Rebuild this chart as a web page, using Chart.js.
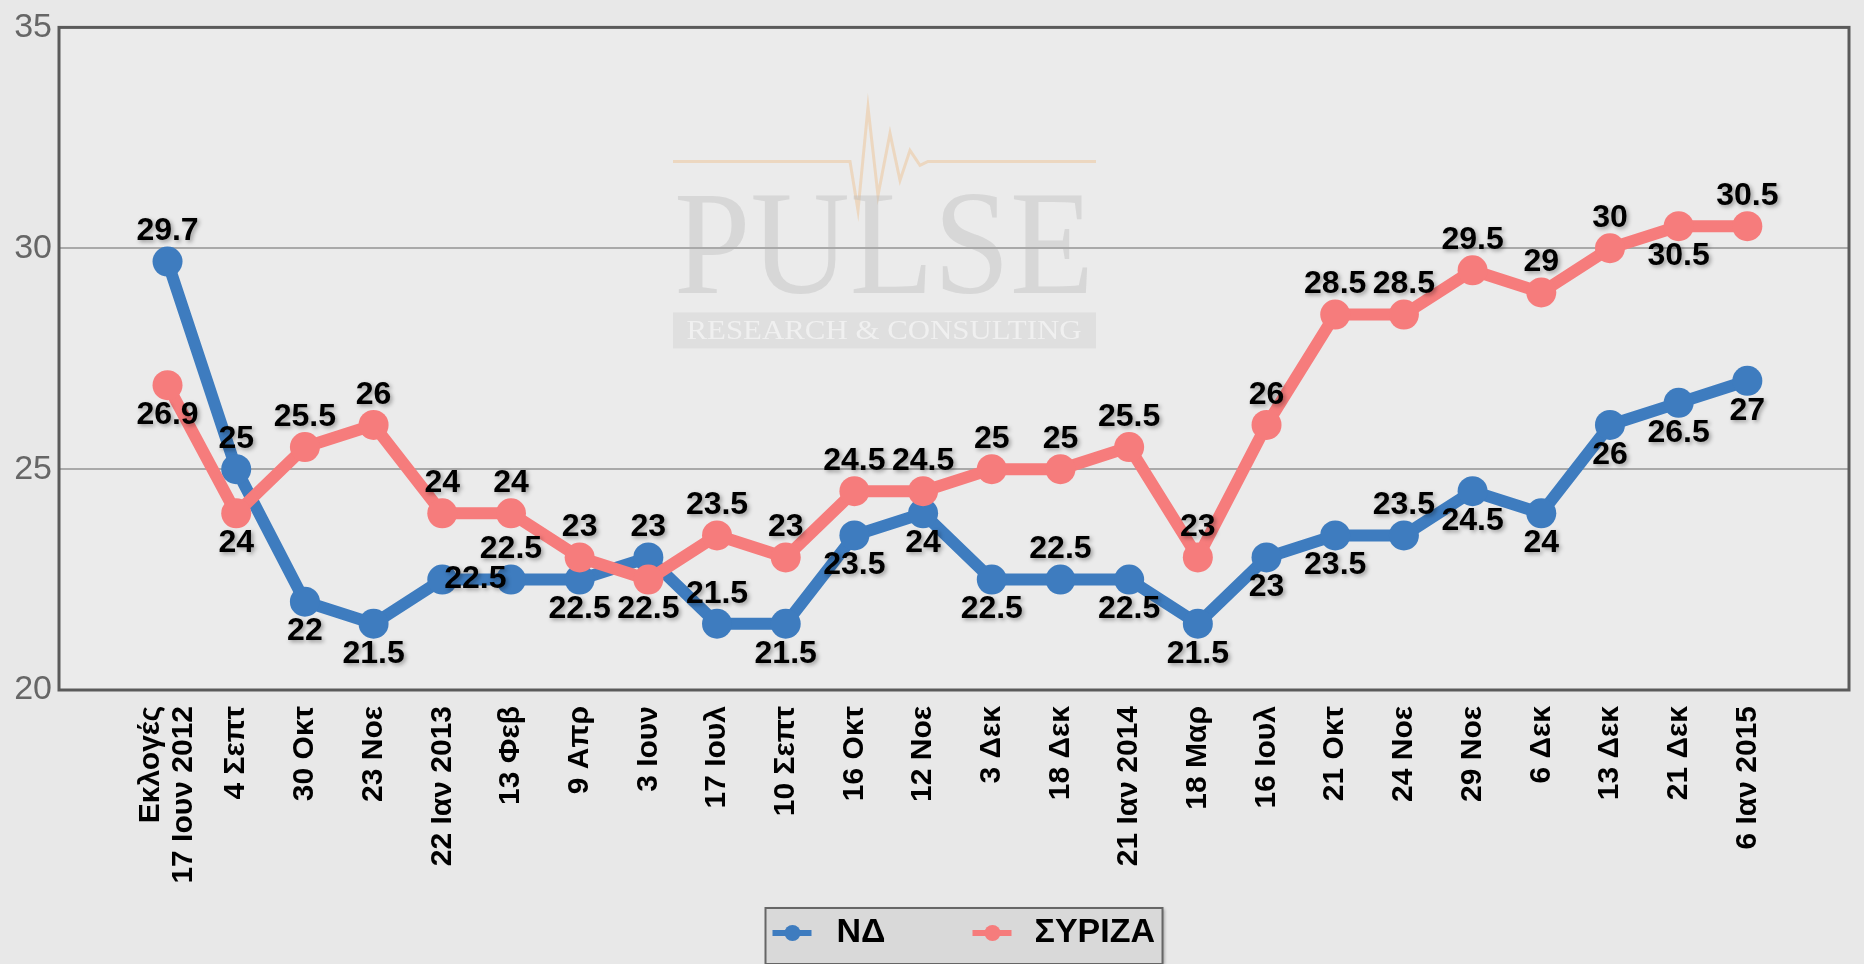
<!DOCTYPE html>
<html>
<head>
<meta charset="utf-8">
<title>ΝΔ - ΣΥΡΙΖΑ</title>
<script src="https://cdn.jsdelivr.net/npm/chart.js"></script>
<style>
  html, body { margin: 0; padding: 0; background: #e8e8e8; }
  #wrap { width: 1864px; height: 964px; }
</style>
</head>
<body>
<div id="wrap"><canvas id="myChart"></canvas></div>
<script>
  const categories = [
    ['Εκλογές', '17 Ιουν 2012'], '4 Σεπτ', '30 Οκτ', '23 Νοε', '22 Ιαν 2013', '13 Φεβ',
    '9 Απρ', '3 Ιουν', '17 Ιουλ', '10 Σεπτ', '16 Οκτ', '12 Νοε', '3 Δεκ', '18 Δεκ',
    '21 Ιαν 2014', '18 Μαρ', '16 Ιουλ', '21 Οκτ', '24 Νοε', '29 Νοε', '6 Δεκ',
    '13 Δεκ', '21 Δεκ', '6 Ιαν 2015'
  ];
  const ndValues = [29.7, 25, 22, 21.5, 22.5, 22.5, 22.5, 23, 21.5, 21.5, 23.5, 24,
    22.5, 22.5, 22.5, 21.5, 23, 23.5, 23.5, 24.5, 24, 26, 26.5, 27];
  const syrizaValues = [26.9, 24, 25.5, 26, 24, 24, 23, 22.5, 23.5, 23, 24.5, 24.5,
    25, 25, 25.5, 23, 26, 28.5, 28.5, 29.5, 29, 30, 30.5, 30.5];
  const yTicks = [20, 25, 30, 35];

  // where each value label sits: a = above, b = below, r = right of the point
  const ndLabelPos = ['a', 'a', 'b', 'b', 'r', 'a', 'b', 'a', 'a', 'b', 'b', 'b',
    'b', 'a', 'b', 'b', 'b', 'b', 'a', 'b', 'b', 'b', 'b', 'b'];
  const syrizaLabelPos = ['b', 'b', 'a', 'a', 'a', 'a', 'a', 'b', 'a', 'a', 'a', 'a',
    'a', 'a', 'a', 'a', 'a', 'a', 'a', 'a', 'a', 'a', 'b', 'a'];

  const ndColor = '#3e7cbf';
  const syrizaColor = '#f67c7c';
  const sans = '"Liberation Sans", Arial, sans-serif';
  const serif = '"Liberation Serif", "Times New Roman", serif';

  const decor = {
    id: 'decor',
    beforeDraw(chart) {
      const { ctx, chartArea: a } = chart;
      ctx.save();
      ctx.fillStyle = '#e8e8e8';
      ctx.fillRect(0, 0, chart.width, chart.height);
      ctx.fillStyle = '#ebebeb';
      ctx.fillRect(a.left, a.top, a.width, a.height);

      // watermark
      const ox = a.left, oy = a.top;
      ctx.strokeStyle = 'rgba(238,190,140,0.45)';
      ctx.lineWidth = 3;
      ctx.beginPath();
      const pulse = [[614, 134], [791, 134], [799, 183], [809, 80], [819, 168], [831, 106],
        [841, 153], [851, 123], [861, 138], [869, 134], [1037, 134]];
      pulse.forEach(([x, y], i) => i ? ctx.lineTo(ox + x, oy + y) : ctx.moveTo(ox + x, oy + y));
      ctx.stroke();

      ctx.fillStyle = 'rgba(185,185,185,0.4)';
      ctx.font = '148px ' + serif;
      ctx.textAlign = 'center';
      ctx.textBaseline = 'alphabetic';
      let w = ctx.measureText('PULSE').width;
      ctx.save();
      ctx.translate(ox + 825, oy + 266);
      ctx.scale(420 / w, 1);
      ctx.fillText('PULSE', 0, 0);
      ctx.restore();

      ctx.fillStyle = 'rgba(200,200,200,0.35)';
      ctx.fillRect(ox + 614, oy + 285, 423, 36);
      ctx.fillStyle = 'rgba(245,245,245,0.75)';
      ctx.font = '28px ' + serif;
      ctx.textBaseline = 'middle';
      w = ctx.measureText('RESEARCH & CONSULTING').width;
      ctx.save();
      ctx.translate(ox + 825, oy + 304);
      ctx.scale(395 / w, 1);
      ctx.fillText('RESEARCH & CONSULTING', 0, 0);
      ctx.restore();
      ctx.restore();
    },
    beforeDatasetsDraw(chart) {
      const { ctx, chartArea: a } = chart;
      ctx.save();
      ctx.strokeStyle = '#5a5a5a';
      ctx.lineWidth = 3;
      ctx.strokeRect(a.left, a.top, a.width, a.height);
      ctx.restore();
    },
    afterDatasetsDraw(chart) {
      const { ctx } = chart;
      ctx.save();
      ctx.font = 'bold 32px ' + sans;
      ctx.fillStyle = '#000';
      ctx.textBaseline = 'middle';
      ctx.shadowColor = 'rgba(0,0,0,0.35)';
      ctx.shadowBlur = 4;
      ctx.shadowOffsetX = 2;
      ctx.shadowOffsetY = 2;
      const positions = [ndLabelPos, syrizaLabelPos];
      chart.data.datasets.forEach((ds, di) => {
        const meta = chart.getDatasetMeta(di);
        meta.data.forEach((pt, i) => {
          const txt = String(ds.data[i].y);
          const pos = positions[di][i];
          if (pos === 'r') {
            ctx.textAlign = 'left';
            ctx.fillText(txt, pt.x + 2, pt.y);
          } else {
            ctx.textAlign = 'center';
            ctx.fillText(txt, pt.x, pos === 'a' ? pt.y - 30 : pt.y + 30);
          }
        });
      });
      ctx.restore();
    },
    afterDraw(chart) {
      const { ctx, chartArea: a } = chart;
      const bw = 397, bh = 56;
      const bx = a.left + a.width / 2 - bw / 2 + 10;
      const by = a.bottom + 218;
      ctx.save();
      ctx.shadowColor = 'rgba(0,0,0,0.3)';
      ctx.shadowBlur = 3;
      ctx.shadowOffsetX = 2;
      ctx.shadowOffsetY = 1;
      ctx.fillStyle = '#d9d9d9';
      ctx.fillRect(bx, by, bw, bh);
      ctx.shadowColor = 'transparent';
      ctx.strokeStyle = '#666';
      ctx.lineWidth = 2;
      ctx.strokeRect(bx, by, bw, bh);
      const cy = by + 25;
      const items = [{ off: 7, txt: 71 }, { off: 207, txt: 269 }];
      chart.data.datasets.forEach((ds, i) => {
        const it = items[i];
        ctx.strokeStyle = ds.borderColor;
        ctx.lineWidth = 6;
        ctx.beginPath();
        ctx.moveTo(bx + it.off, cy);
        ctx.lineTo(bx + it.off + 39, cy);
        ctx.stroke();
        ctx.fillStyle = ds.borderColor;
        ctx.beginPath();
        ctx.arc(bx + it.off + 20, cy, 8, 0, Math.PI * 2);
        ctx.fill();
        ctx.fillStyle = '#000';
        ctx.font = 'bold 34px ' + sans;
        ctx.textAlign = 'left';
        ctx.textBaseline = 'middle';
        ctx.fillText(ds.label, bx + it.txt, cy);
      });
      ctx.restore();
    }
  };

  const ctx = document.getElementById('myChart').getContext('2d');
  const myChart = new Chart(ctx, {
    type: 'line',
    data: {
      datasets: [{
        label: 'ΝΔ',
        data: ndValues.map((v, i) => ({ x: i, y: v })),
        borderColor: ndColor,
        backgroundColor: ndColor,
        pointBackgroundColor: ndColor,
        borderWidth: 12,
        pointRadius: 15,
        pointBorderWidth: 0,
        tension: 0,
        order: 1
      }, {
        label: 'ΣΥΡΙΖΑ',
        data: syrizaValues.map((v, i) => ({ x: i, y: v })),
        borderColor: syrizaColor,
        backgroundColor: syrizaColor,
        pointBackgroundColor: syrizaColor,
        borderWidth: 12,
        pointRadius: 15,
        pointBorderWidth: 0,
        tension: 0,
        order: 0
      }]
    },
    options: {
      responsive: true,
      maintainAspectRatio: false,
      animation: false,
      devicePixelRatio: 1,
      layout: { padding: { top: 22, right: 4, left: 0, bottom: 0 } },
      plugins: {
        legend: { display: false },
        tooltip: { enabled: false }
      },
      scales: {
        x: {
          type: 'linear',
          min: -1.58,
          max: 24.48,
          bounds: 'data',
          grid: { display: false, drawTicks: false },
          border: { display: false },
          // two-line labels are centred on their point
          afterBuildTicks: s => {
            s.ticks = categories.map((c, i) => ({ value: Array.isArray(c) ? i - (c.length - 1) * 0.24 : i }));
          },
          afterFit: s => { s.height = 274; },
          ticks: {
            autoSkip: false,
            minRotation: 90,
            maxRotation: 90,
            padding: 16,
            color: '#000',
            font: { family: sans, size: 30, weight: 'bold', lineHeight: 1.1 },
            callback: (v, i) => categories[i]
          }
        },
        y: {
          min: 20,
          max: 35,
          grid: {
            drawTicks: false,
            lineWidth: 2,
            color: c => (c.tick && (c.tick.value === 25 || c.tick.value === 30)) ? '#a9a9a9' : 'rgba(0,0,0,0)'
          },
          border: { display: false },
          afterBuildTicks: s => { s.ticks = yTicks.map(v => ({ value: v })); },
          afterFit: s => { s.width = 59; },
          ticks: {
            padding: 7,
            color: '#666',
            font: { family: sans, size: 34 }
          }
        }
      }
    },
    plugins: [decor]
  });
</script>
</body>
</html>
